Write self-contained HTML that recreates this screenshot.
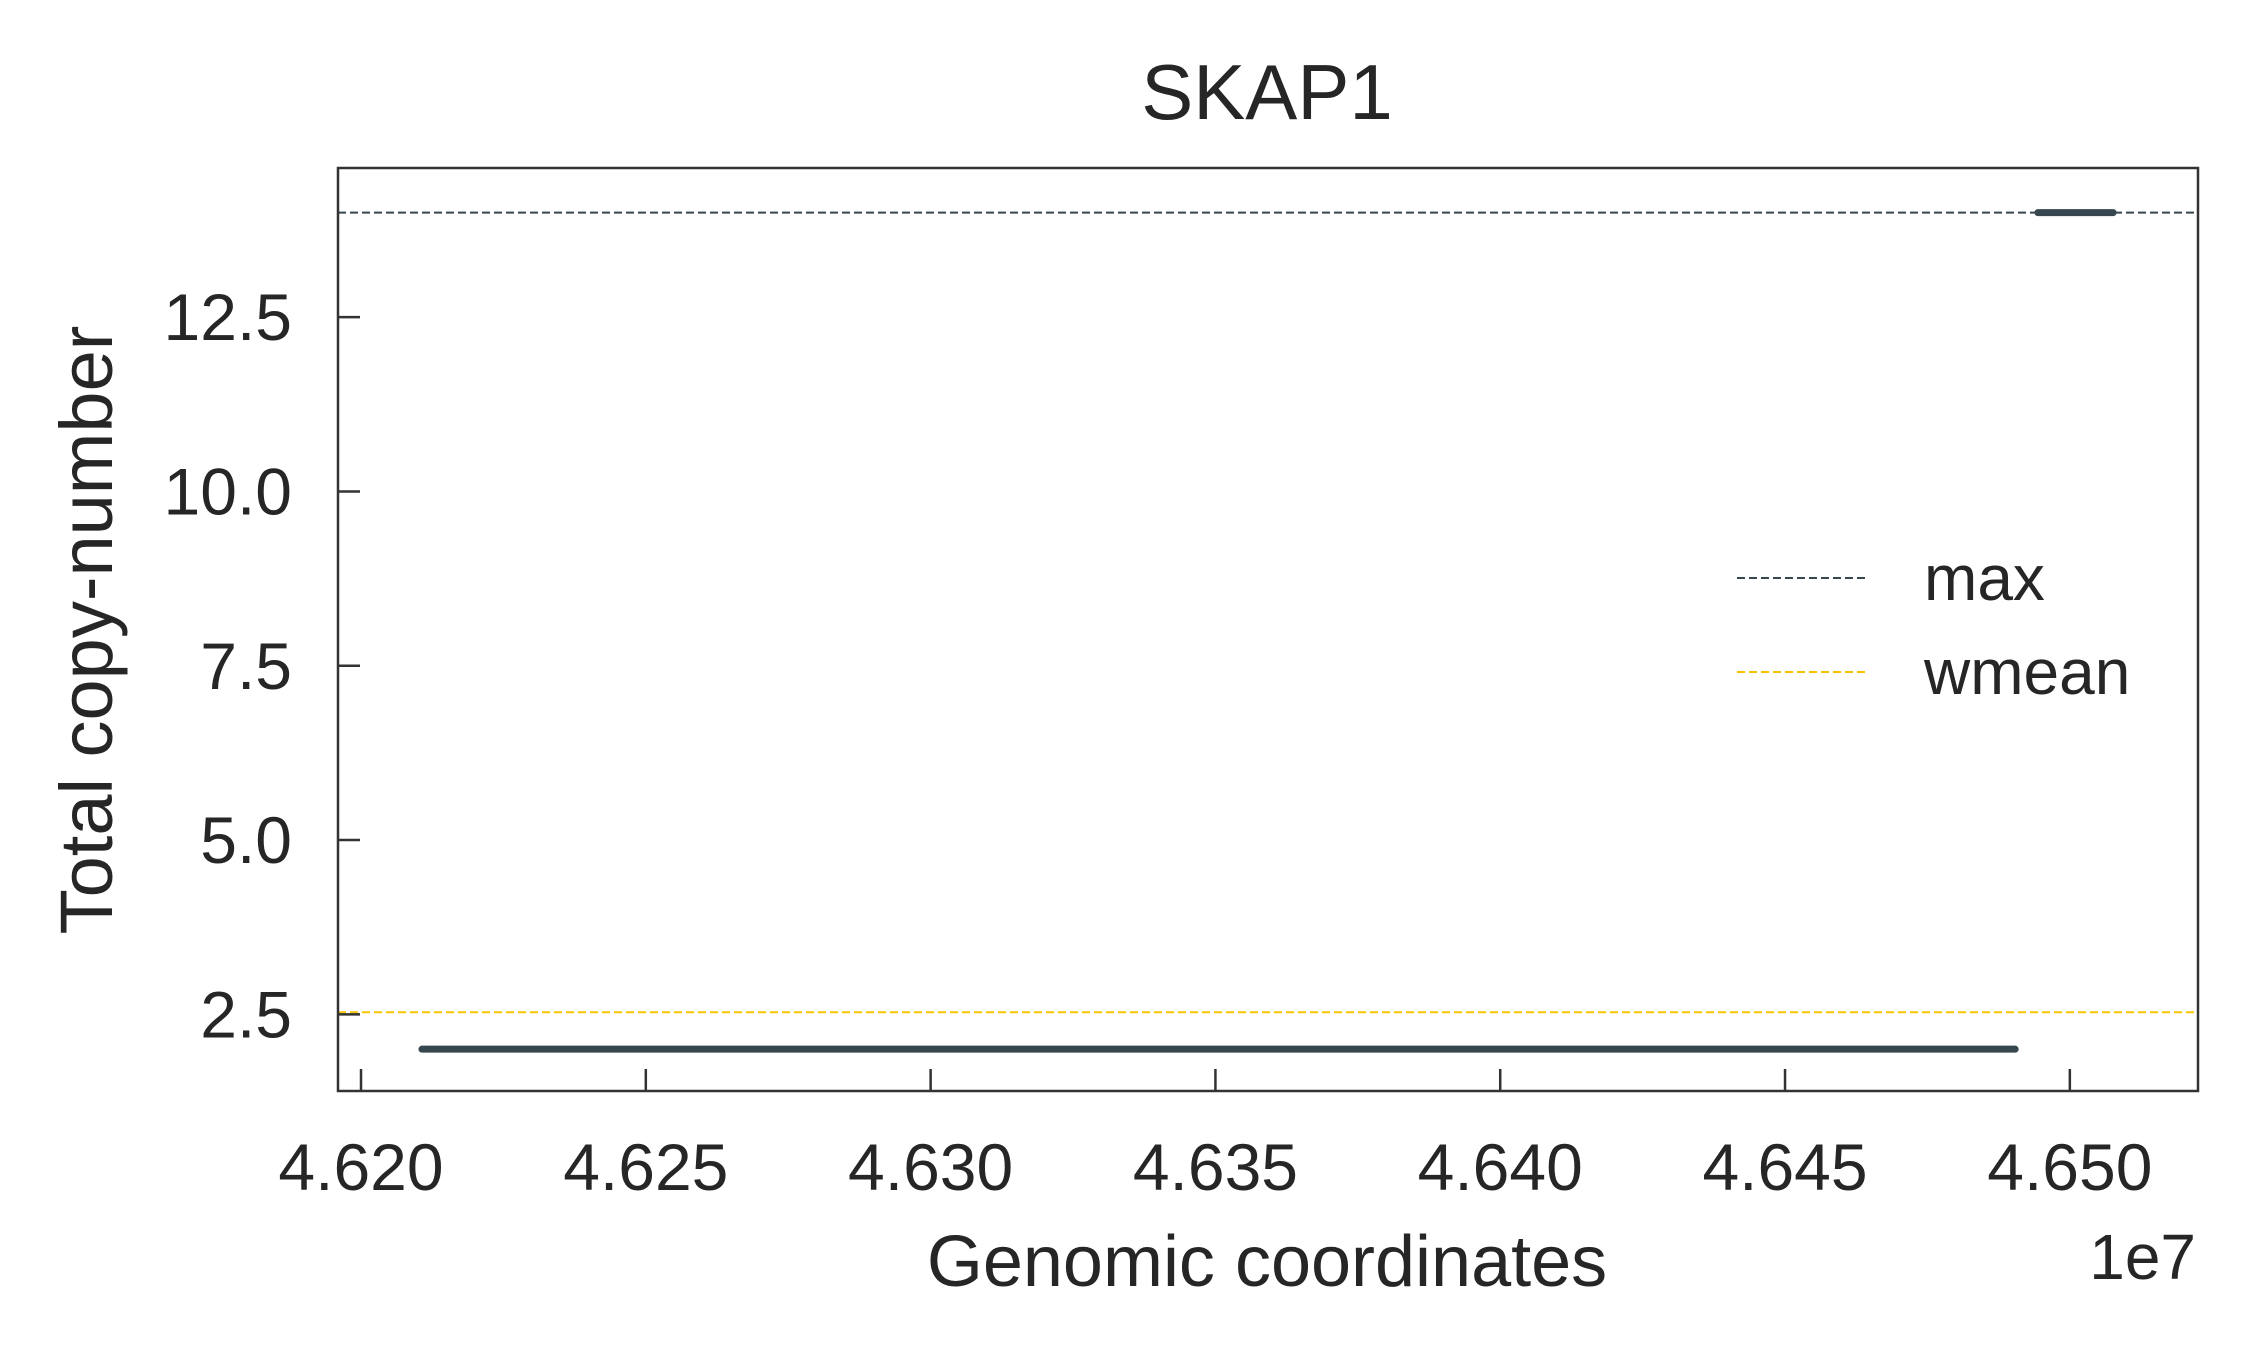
<!DOCTYPE html>
<html><head><meta charset="utf-8"><style>
html,body{margin:0;padding:0;background:#fff;}
svg text{font-family:"Liberation Sans",Arial,sans-serif;fill:#262626;}
</style></head><body>
<svg id="chart" width="2257" height="1362" viewBox="0 0 2257 1362" xmlns="http://www.w3.org/2000/svg">
<rect x="0" y="0" width="2257" height="1362" fill="#fff"/>
<text x="1267" y="119" font-size="78" text-anchor="middle">SKAP1</text>
<g id="plot"></g>
<text x="1267" y="1286" font-size="72" text-anchor="middle">Genomic coordinates</text>
<text x="2196" y="1279" font-size="64" text-anchor="end">1e7</text>
<text transform="translate(112,630) rotate(-90)" font-size="74" text-anchor="middle">Total copy-number</text>
</svg>
<script>
const segStarts = [46210700, 46494400];
const segEnds = [46490400, 46507600];
const segValues = [2, 14];
const maxValue = 14;
const wmeanValue = 2.53;
const xTicks = [46200000, 46250000, 46300000, 46350000, 46400000, 46450000, 46500000];
const xTickLabels = ["4.620","4.625","4.630","4.635","4.640","4.645","4.650"];
const yTicks = [2.5, 5, 7.5, 10, 12.5];
const yTickLabels = ["2.5","5.0","7.5","10.0","12.5"];

const L=338,R=2198,T=168,B=1091;
const xMin=46195960,xMax=46522500,yMin=1.40,yMax=14.64;
const xs=v=>L+(v-xMin)/(xMax-xMin)*(R-L);
const ys=v=>B-(v-yMin)/(yMax-yMin)*(B-T);
const NS="http://www.w3.org/2000/svg";
const g=document.getElementById('plot');
function mk(tag,attrs){const e=document.createElementNS(NS,tag);for(const k in attrs)e.setAttribute(k,attrs[k]);g.appendChild(e);return e;}

let e=mk('line',{x1:L,x2:R,y1:ys(maxValue),y2:ys(maxValue),stroke:'#37474f','stroke-width':2,'stroke-dasharray':'8,4'});


e=mk('line',{x1:L,x2:R,y1:ys(wmeanValue),y2:ys(wmeanValue),stroke:'#f5c400','stroke-width':2,'stroke-dasharray':'8,4'});



for(let i=0;i<segValues.length;i++){
  e=mk('line',{x1:xs(segStarts[i]),x2:xs(segEnds[i]),y1:ys(segValues[i]),y2:ys(segValues[i]),stroke:'#37474f','stroke-width':7,'stroke-linecap':'round'});
  
  
}

e=mk('rect',{x:L,y:T,width:R-L,height:B-T,fill:'none',stroke:'#333','stroke-width':2.5});



for(let i=0;i<xTicks.length;i++){
  const x=xs(xTicks[i]);
  e=mk('line',{x1:x,x2:x,y1:B,y2:B-22,stroke:'#333','stroke-width':2.5});
  
  
  e=mk('text',{x:x,y:1190,'font-size':66,'text-anchor':'middle'});
  e.textContent=xTickLabels[i];
  
  
}
for(let i=0;i<yTicks.length;i++){
  const y=ys(yTicks[i]);
  e=mk('line',{x1:L,x2:L+22,y1:y,y2:y,stroke:'#333','stroke-width':2.5});
  
  
  e=mk('text',{x:292,y:y+23,'font-size':66,'text-anchor':'end'});
  e.textContent=yTickLabels[i];
  
  
}

const legNames=['max','wmean'],legColors=['#37474f','#f5c400'],legY=[578,672];
for(let i=0;i<2;i++){
  e=mk('line',{x1:1737,x2:1868,y1:legY[i],y2:legY[i],stroke:legColors[i],'stroke-width':2,'stroke-dasharray':'8,4'});
  
  
  e=mk('text',{x:1924,y:legY[i]+22,'font-size':64});
  e.textContent=legNames[i];
  
  
}
</script>
</body></html>
